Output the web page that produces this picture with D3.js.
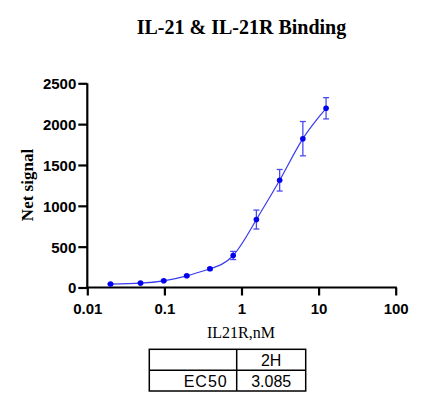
<!DOCTYPE html>
<html><head><meta charset="utf-8">
<script src="https://cdn.jsdelivr.net/npm/d3@7"></script>
<style>body{margin:0;background:#fff}svg{display:block}</style>
</head><body>
<script>
const concentrations = [0.02, 0.049, 0.098, 0.195, 0.39, 0.78, 1.56, 3.125, 6.25, 12.5];
const netSignal = [42, 54, 82, 143, 229, 392, 832, 1313, 1822, 2194];
const errors = [6, 6, 8, 10, 14, 50, 116, 132, 210, 130];
const xTicks = [0.01, 0.1, 1, 10, 100];
const xTickLabels = ["0.01", "0.1", "1", "10", "100"];
const yTicks = [0, 500, 1000, 1500, 2000, 2500];
const tableHeader = ["", "2H"];
const tableRow = ["EC50", "3.085"];

const W = 438, H = 411;
const svg = d3.select("body").append("svg").attr("width", W).attr("height", H);

const x = d3.scaleLog().domain([0.01, 100]).range([87.3, 395.7]);
const y = d3.scaleLinear().domain([0, 2500]).range([287.5, 83.3]);

// title
svg.append("text").attr("x", 241.5).attr("y", 34).attr("text-anchor", "middle")
  .attr("font-family", "Liberation Serif").attr("font-weight", "bold").attr("font-size", 20)
  .text("IL-21 & IL-21R Binding");

// axes
const xAxis = d3.axisBottom(x).tickValues(xTicks).tickFormat((d, i) => xTickLabels[i]).tickSize(8).tickSizeOuter(0);
const gx = svg.append("g").attr("transform", "translate(0,287.5)").call(xAxis);
const yAxis = d3.axisLeft(y).tickValues(yTicks).tickFormat(d3.format("d")).tickSize(9).tickSizeOuter(0).tickPadding(2);
const gy = svg.append("g").attr("transform", "translate(87.3,0)").call(yAxis);
[gx, gy].forEach(g => {
  g.select(".domain").attr("stroke", "#000").attr("stroke-width", 2.2);
  g.selectAll(".tick line").attr("stroke", "#000").attr("stroke-width", 2.2);
  g.selectAll(".tick text").attr("font-family", "Liberation Sans").attr("font-weight", "bold")
    .attr("font-size", 15).attr("fill", "#000");
});
gy.select(".domain").attr("d", `M0,${y(0)+1.1}V${y(2500)}`);
gx.select(".domain").attr("d", `M${x(0.01)-1.1},0H${x(100)+1.1}`);
gx.selectAll(".tick text").attr("dy", null).attr("y", 26.5);
gy.selectAll(".tick text").attr("dy", "0.36em");

// axis labels
svg.append("text").attr("transform", "translate(33,185) rotate(-90)").attr("text-anchor", "middle")
  .attr("font-family", "Liberation Serif").attr("font-weight", "bold").attr("font-size", 17)
  .text("Net signal");
svg.append("text").attr("x", 241).attr("y", 338).attr("text-anchor", "middle")
  .attr("font-family", "Liberation Serif").attr("font-size", 16)
  .text("IL21R,nM");

const data = concentrations.map((c, i) => ({c, v: netSignal[i], e: errors[i]}));

// curve
svg.append("path").datum(data)
  .attr("d", d3.line().x(d => x(d.c)).y(d => y(d.v)).curve(d3.curveNatural))
  .attr("fill", "none").attr("stroke", "#3a3af0").attr("stroke-width", 1.2);

// error bars
const eb = svg.append("g").attr("stroke", "#4a4af0").attr("stroke-width", 1.3);
data.forEach(d => {
  const cx = x(d.c);
  eb.append("line").attr("x1", cx).attr("x2", cx).attr("y1", y(d.v + d.e)).attr("y2", y(d.v - d.e));
  eb.append("line").attr("x1", cx - 3).attr("x2", cx + 3).attr("y1", y(d.v + d.e)).attr("y2", y(d.v + d.e));
  eb.append("line").attr("x1", cx - 3).attr("x2", cx + 3).attr("y1", y(d.v - d.e)).attr("y2", y(d.v - d.e));
});

// points
svg.append("g").selectAll("circle").data(data).join("circle")
  .attr("cx", d => x(d.c)).attr("cy", d => y(d.v)).attr("r", 2.8).attr("fill", "#0000ee");

// table
const tx0 = 149.3, tx1 = 236.7, tx2 = 305.7, ty0 = 349.3, ty1 = 370.3, ty2 = 391;
const tb = svg.append("g");
tb.append("rect").attr("x", tx0).attr("y", ty0).attr("width", tx2 - tx0).attr("height", ty2 - ty0)
  .attr("fill", "none").attr("stroke", "#000").attr("stroke-width", 1.5);
tb.append("line").attr("x1", tx0).attr("x2", tx2).attr("y1", ty1).attr("y2", ty1).attr("stroke", "#000").attr("stroke-width", 1.5);
tb.append("line").attr("x1", tx1).attr("x2", tx1).attr("y1", ty0).attr("y2", ty2).attr("stroke", "#000").attr("stroke-width", 1.5);
const tf = (sel) => sel.attr("font-family", "Liberation Sans").attr("font-size", 16).attr("fill", "#000");
tf(tb.append("text").attr("x", (tx1 + tx2) / 2).attr("y", ty1 - 4.5).attr("text-anchor", "middle").text(tableHeader[1]));
tf(tb.append("text").attr("x", tx1 - 9).attr("y", ty2 - 4.5).attr("text-anchor", "end").attr("letter-spacing", 1).text(tableRow[0]));
tf(tb.append("text").attr("x", (tx1 + tx2) / 2).attr("y", ty2 - 4.5).attr("text-anchor", "middle").text(tableRow[1]));
</script>
</body></html>
